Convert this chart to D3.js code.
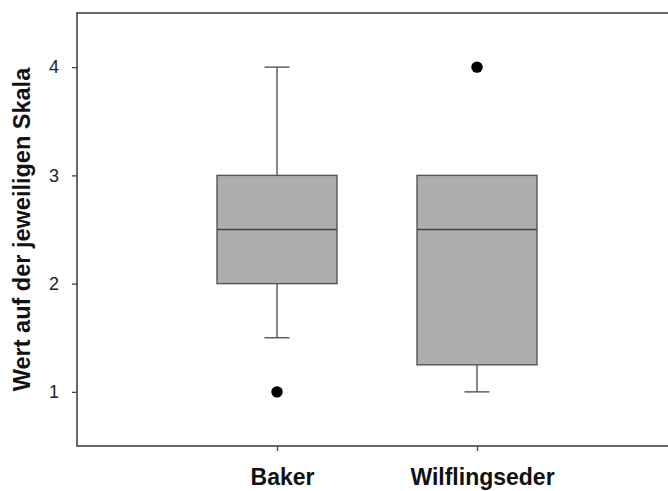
<!DOCTYPE html>
<html>
<head>
<meta charset="utf-8">
<script src="https://cdn.jsdelivr.net/npm/d3@7/dist/d3.min.js"></script>
<style>
  body { margin: 0; background: #fff; }
  svg { display: block; font-family: "Liberation Sans", Arial, sans-serif; }
</style>
</head>
<body>
<svg id="chart" width="668" height="491"></svg>
<script>
// data
var categories = ["Baker", "Wilflingseder"];
var q1 = [2, 1.25];
var median = [2.5, 2.5];
var q3 = [3, 3];
var whiskerLow = [1.5, 1];
var whiskerHigh = [4, 3];
var outliers = [[1], [4]];
var yTicks = [1, 2, 3, 4];

var svg = d3.select("#chart");

// plot area (window.top is reserved, so other names)
var plotLeft = 77, plotTop = 13, plotBottom = 446, plotRight = 677;

var x = d3.scalePoint()
	.domain(categories)
	.range([plotLeft, plotRight])
	.padding(1);

var y = d3.scaleLinear()
	.domain([0.5, 4.5])
	.range([plotBottom, plotTop]);

var boxW = 120, capW = 25;

// frame (right side runs off the picture)
svg.append("rect")
	.attr("x", plotLeft)
	.attr("y", y(4.5))
	.attr("width", plotRight - plotLeft + 20)
	.attr("height", y(0.5) - y(4.5))
	.attr("fill", "none")
	.attr("stroke", "#444")
	.attr("stroke-width", 1.6);

// y axis
var yAxis = svg.append("g")
	.attr("transform", "translate(" + plotLeft + ",0)")
	.call(d3.axisLeft(y).tickValues(yTicks).tickSize(5).tickPadding(13).tickFormat(d3.format("d")));
yAxis.select(".domain").remove();
yAxis.selectAll(".tick line").attr("stroke", "#444").attr("stroke-width", 1.3);
yAxis.selectAll(".tick text")
	.attr("font-size", 18)
	.attr("font-family", "\"Liberation Sans\", Arial, sans-serif")
	.attr("fill", "#222");

// x axis
var xAxis = svg.append("g")
	.attr("transform", "translate(0," + y(0.5) + ")")
	.call(d3.axisBottom(x).tickSize(5).tickPadding(18));
xAxis.select(".domain").remove();
xAxis.selectAll(".tick line").attr("stroke", "#444").attr("stroke-width", 1.3);
xAxis.selectAll(".tick text")
	.attr("font-size", 23)
	.attr("font-weight", "bold")
	.attr("font-family", "\"Liberation Sans\", Arial, sans-serif")
	.attr("fill", "#111")
	.attr("dx", 5);

// y axis title
svg.append("text")
	.attr("transform", "translate(29.5," + ((y(1) + y(4)) / 2) + ") rotate(-90)")
	.attr("text-anchor", "middle")
	.attr("font-size", 23.5)
	.attr("font-weight", "bold")
	.attr("fill", "#111")
	.text("Wert auf der jeweiligen Skala");

// boxes
var boxes = svg.selectAll("g.box")
	.data(categories)
	.enter().append("g")
	.attr("class", "box");

boxes.each(function (c, i) {
	var g = d3.select(this);
	var cx = x(c);

	// whiskers
	if (whiskerHigh[i] > q3[i]) {
		g.append("line")
			.attr("x1", cx).attr("x2", cx)
			.attr("y1", y(q3[i])).attr("y2", y(whiskerHigh[i]))
			.attr("stroke", "#555").attr("stroke-width", 1.4);
		g.append("line")
			.attr("x1", cx - capW / 2).attr("x2", cx + capW / 2)
			.attr("y1", y(whiskerHigh[i])).attr("y2", y(whiskerHigh[i]))
			.attr("stroke", "#555").attr("stroke-width", 1.4);
	}
	if (whiskerLow[i] < q1[i]) {
		g.append("line")
			.attr("x1", cx).attr("x2", cx)
			.attr("y1", y(q1[i])).attr("y2", y(whiskerLow[i]))
			.attr("stroke", "#555").attr("stroke-width", 1.4);
		g.append("line")
			.attr("x1", cx - capW / 2).attr("x2", cx + capW / 2)
			.attr("y1", y(whiskerLow[i])).attr("y2", y(whiskerLow[i]))
			.attr("stroke", "#555").attr("stroke-width", 1.4);
	}

	g.append("rect")
		.attr("x", cx - boxW / 2)
		.attr("y", y(q3[i]))
		.attr("width", boxW)
		.attr("height", y(q1[i]) - y(q3[i]))
		.attr("fill", "#aeaeae")
		.attr("stroke", "#555")
		.attr("stroke-width", 1.4);

	g.append("line")
		.attr("x1", cx - boxW / 2).attr("x2", cx + boxW / 2)
		.attr("y1", y(median[i])).attr("y2", y(median[i]))
		.attr("stroke", "#444").attr("stroke-width", 1.5);

	g.selectAll("circle")
		.data(outliers[i])
		.enter().append("circle")
		.attr("cx", cx)
		.attr("cy", function (d) { return y(d); })
		.attr("r", 5.7)
		.attr("fill", "#000");
});
</script>
</body>
</html>
